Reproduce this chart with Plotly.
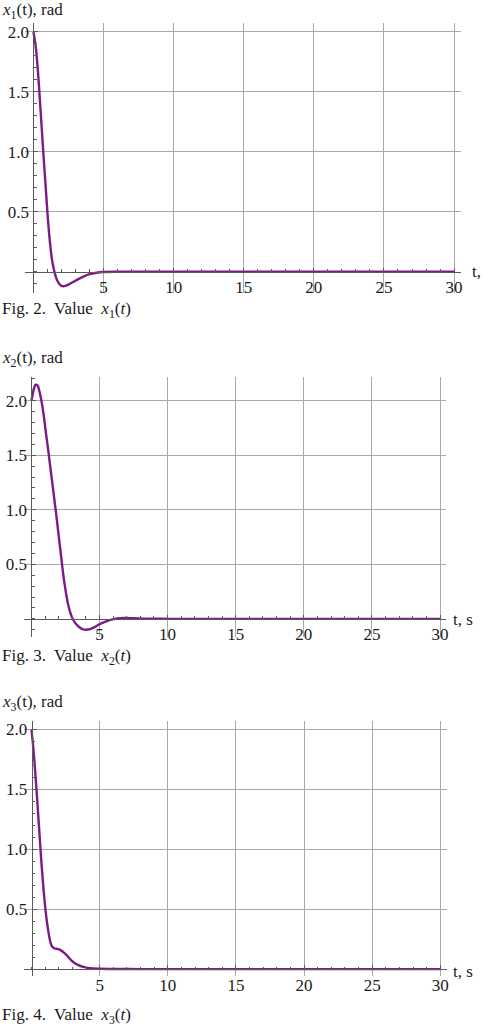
import plotly.graph_objects as go

W, H = 485, 1034

# ---- data ----
t1 = [0, 0.1, 0.2, 0.3, 0.4, 0.5, 0.6, 0.7, 0.8, 0.9, 1.0, 1.1, 1.2, 1.3, 1.4, 1.5, 1.6,
      1.8, 2.0, 2.2, 2.5, 2.8, 3.2, 3.6, 4.0, 4.5, 5.0, 6, 8, 10, 15, 20, 25, 30]
x1 = [2.0, 1.93, 1.84, 1.70, 1.54, 1.36, 1.18, 1.0, 0.83, 0.66, 0.49, 0.34, 0.22, 0.12, 0.05, 0.0, -0.045,
      -0.095, -0.118, -0.12, -0.108, -0.088, -0.062, -0.038, -0.02, -0.008, -0.002, 0.0, 0.0, 0.0, 0.0, 0.0, 0.0, 0.0]

t2 = [0, 0.15, 0.3, 0.45, 0.6, 0.75, 0.9, 1.05, 1.2, 1.35, 1.5, 1.65, 1.8, 1.95, 2.1, 2.25, 2.4,
      2.55, 2.7, 2.85, 3.0, 3.2, 3.5, 3.8, 4.0, 4.3, 4.6, 5.0, 5.4, 5.8, 6.3, 6.8, 7.5, 8.5,
      10, 15, 20, 25, 30]
x2 = [2.0, 2.09, 2.145, 2.14, 2.08, 1.99, 1.87, 1.72, 1.58, 1.43, 1.28, 1.13, 0.98, 0.82, 0.66, 0.5, 0.35,
      0.23, 0.13, 0.06, 0.01, -0.035, -0.075, -0.096, -0.1, -0.095, -0.078, -0.05, -0.028, -0.01, 0.003, 0.008, 0.006, 0.002,
      0.0, 0.0, 0.0, 0.0, 0.0]

t3 = [0, 0.1, 0.2, 0.3, 0.4, 0.5, 0.6, 0.7, 0.8, 0.9, 1.0, 1.1, 1.2, 1.3, 1.4, 1.5, 1.7, 1.9,
      2.1, 2.3, 2.5, 2.7, 2.9, 3.1, 3.4, 3.8, 4.3, 5.0, 6.0, 8, 10, 15, 20, 25, 30]
x3 = [2.0, 1.88, 1.75, 1.60, 1.44, 1.27, 1.10, 0.93, 0.78, 0.64, 0.52, 0.42, 0.34, 0.27, 0.22, 0.19, 0.172, 0.168,
      0.16, 0.145, 0.125, 0.10, 0.075, 0.055, 0.035, 0.018, 0.007, 0.003, 0.001, 0.0, 0.0, 0.0, 0.0, 0.0, 0.0]

xticks = [5, 10, 15, 20, 25, 30]
yticks = [0.5, 1.0, 1.5, 2.0]

titles = ["<i>x</i><sub>1</sub>(t), rad", "<i>x</i><sub>2</sub>(t), rad", "<i>x</i><sub>3</sub>(t), rad"]
captions = ["Fig. 2.\u00a0 Value\u00a0 <i>x</i><sub>1</sub>(<i>t</i>)",
            "Fig. 3.\u00a0 Value\u00a0 <i>x</i><sub>2</sub>(<i>t</i>)",
            "Fig. 4.\u00a0 Value\u00a0 <i>x</i><sub>3</sub>(<i>t</i>)"]
xlabels = ["t,", "t, s", "t, s"]

# ---- layout geometry (pixels) ----
panels = [
    dict(t=t1, x=x1, xpx=(25, 463), ypx=(22, 292), xr=(-0.61, 30.5), yr=(-0.175, 2.075),
         title_xy=(0, 10), lab_xy=(472, 271), cap_xy=(0, 309)),
    dict(t=t2, x=x2, xpx=(24, 448), ypx=(376, 637), xr=(-0.55, 30.45), yr=(-0.17, 2.22),
         title_xy=(0, 358), lab_xy=(453, 619), cap_xy=(0, 657)),
    dict(t=t3, x=x3, xpx=(24, 449), ypx=(721, 976), xr=(-0.56, 30.5), yr=(-0.058, 2.067),
         title_xy=(0, 703), lab_xy=(453, 971), cap_xy=(0, 1016)),
]

FONT = "Liberation Serif, Times New Roman, Times, DejaVu Serif, serif"
LINE = "#7e1a86"
GRID = "#a9a9a9"
AXIS = "#5a5a5a"
TXT = "#1a1a1a"
FS = 17

fig = go.Figure()
layout = dict(width=W, height=H, margin=dict(l=0, r=0, t=0, b=0),
              paper_bgcolor="white", plot_bgcolor="white", showlegend=False,
              font=dict(family=FONT, size=FS, color=TXT))
annotations = []

for i, p in enumerate(panels, start=1):
    sfx = "" if i == 1 else str(i)
    xdom = [p["xpx"][0] / W, p["xpx"][1] / W]
    ydom = [1 - p["ypx"][1] / H, 1 - p["ypx"][0] / H]
    xr, yr = p["xr"], p["yr"]
    xpos0 = xdom[0] + (0 - xr[0]) / (xr[1] - xr[0]) * (xdom[1] - xdom[0])
    ypos0 = ydom[0] + (0 - yr[0]) / (yr[1] - yr[0]) * (ydom[1] - ydom[0])

    fig.add_trace(go.Scatter(x=p["t"], y=p["x"], mode="lines",
                             line=dict(color=LINE, width=2.4, shape="spline", smoothing=0.8),
                             xaxis="x" + sfx, yaxis="y" + sfx, hoverinfo="skip"))

    layout["xaxis" + sfx] = dict(
        domain=xdom, range=list(xr), anchor="free", position=ypos0,
        tickmode="array", tickvals=xticks, ticktext=[str(v) for v in xticks],
        ticks="inside", ticklen=4, tickwidth=1, tickcolor=AXIS,
        minor=dict(ticks="inside", ticklen=2.5, tickwidth=1, tickcolor=AXIS,
                   tickmode="linear", tick0=0, dtick=1, showgrid=False),
        showline=True, linecolor=AXIS, linewidth=1,
        showgrid=True, gridcolor=GRID, gridwidth=1, zeroline=False,
        tickfont=dict(family=FONT, size=FS, color=TXT), fixedrange=True)
    layout["yaxis" + sfx] = dict(
        domain=ydom, range=list(yr), anchor="free", position=xpos0,
        tickmode="array", tickvals=yticks, ticktext=["%.1f" % v for v in yticks],
        ticks="inside", ticklen=4, tickwidth=1, tickcolor=AXIS,
        minor=dict(ticks="inside", ticklen=2.5, tickwidth=1, tickcolor=AXIS,
                   tickmode="linear", tick0=0, dtick=0.1, showgrid=False),
        showline=True, linecolor=AXIS, linewidth=1,
        showgrid=True, gridcolor=GRID, gridwidth=1, zeroline=False,
        ticklabelstandoff=1,
        tickfont=dict(family=FONT, size=FS, color=TXT), fixedrange=True)

    for txt, (px, py) in ((titles[i - 1], p["title_xy"]), (xlabels[i - 1], p["lab_xy"]),
                          (captions[i - 1], p["cap_xy"])):
        annotations.append(dict(text=txt, xref="paper", yref="paper",
                                x=px / W, y=1 - py / H, xanchor="left", yanchor="middle",
                                showarrow=False, font=dict(family=FONT, size=FS, color=TXT)))

layout["annotations"] = annotations
fig.update_layout(**layout)
fig.write_html("out.html")
